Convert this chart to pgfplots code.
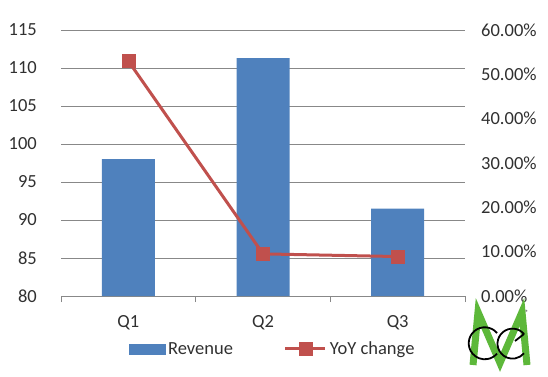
\documentclass[border=0pt]{standalone}
\usepackage{pgfplots}
\pgfplotsset{compat=1.18}
\usepackage{fontspec}
\setmainfont{Carlito}
\definecolor{barblue}{HTML}{4F81BD}
\definecolor{linered}{HTML}{C0504D}
\definecolor{gridgray}{HTML}{888888}
\definecolor{txt}{HTML}{303030}
\definecolor{logogreen}{HTML}{5DB83A}
\pgfplotsset{
  linelegend/.style={legend image code/.code={\draw[mark repeat=2,mark phase=2,##1] plot coordinates {(0pt,0pt) (20pt,0pt) (40pt,0pt)};}},
  barlegend/.style={legend image code/.code={\fill[barblue] (0pt,-5pt) rectangle (36pt,5pt);}},
}
\pgfplotstableread{
x rev yoy
0 98.0 0.530
1 111.3 0.095
2 91.5 0.089
}\data
\begin{document}
\begin{tikzpicture}[x=1pt,y=1pt]
\path (0,0) rectangle (548,376);
\pgfplotsset{
  every tick label/.append style={font=\fontsize{18.5}{21}\selectfont, text=txt},
  /pgf/number format/assume math mode=true,
}
\begin{axis}[
  at={(61pt,80pt)}, anchor=south west, scale only axis,
  width=404pt, height=266pt,
  xmin=-0.5, xmax=2.5, ymin=80, ymax=115,
  ytick={80,85,...,115},
  axis line style={draw=none},
  ymajorgrids, grid style={gridgray, line width=0.9pt},
  ytick style={draw=none},
  xtick={-0.5,0.5,1.5,2.5}, xticklabels={},
  xtick style={draw=gridgray, line width=0.9pt},
  major tick length=6pt, tick align=outside,
  extra x ticks={0,1,2}, extra x tick labels={Q1,Q2,Q3},
  extra x tick style={major tick length=0pt, grid=none},
  xtick pos=bottom,
  yticklabel style={anchor=east, inner sep=0pt, xshift=-18pt},
  xticklabel style={anchor=north, inner sep=0pt, yshift=-19pt},
]
\addplot[ybar, bar width=53pt, fill=barblue, draw=none] table[x=x, y=rev] {\data};
\end{axis}
\begin{axis}[
  at={(61pt,80pt)}, anchor=south west, scale only axis,
  width=404pt, height=266pt,
  xmin=-0.5, xmax=2.5, ymin=0, ymax=0.6,
  axis line style={draw=none},
  hide x axis,
  axis y line*=right,
  ytick={0,0.1,...,0.6},
  yticklabels={0.00\%,10.00\%,20.00\%,30.00\%,40.00\%,50.00\%,60.00\%},
  ytick style={draw=none},
  yticklabel style={anchor=west, inner sep=0pt, xshift=16pt},
  legend columns=2,
  legend style={at={(0.525,-0.199)}, anchor=center, draw=none, fill=none,
    font=\fontsize{18.5}{21}\selectfont, text=txt,
    /tikz/every even column/.append style={column sep=48pt},
    nodes={inner sep=3pt}},
]
\addlegendimage{barlegend}
\addlegendentry{Revenue}
\addplot[linered, line width=3pt, mark=square*, mark size=6.5pt,
  mark options={solid, fill=linered, draw=linered, line width=0.5pt},
  linelegend] table[x=x, y=yoy] {\data};
\addlegendentry{YoY change}
\end{axis}
% logo
\draw[logogreen, line width=7pt, line join=miter] (473,11) -- (478,64) -- (500,13) -- (522,64) -- (527,11);
\draw[black, line width=1.8pt] (497,43) arc (40:320:16);
\draw[black, line width=1.8pt] (524,42) arc (40:320:15);
\draw[black, line width=1.8pt] (524,42) -- (515,35);
\node[font=\fontsize{6}{6}\selectfont] at (527,64) {\textregistered};
\end{tikzpicture}
\end{document}
